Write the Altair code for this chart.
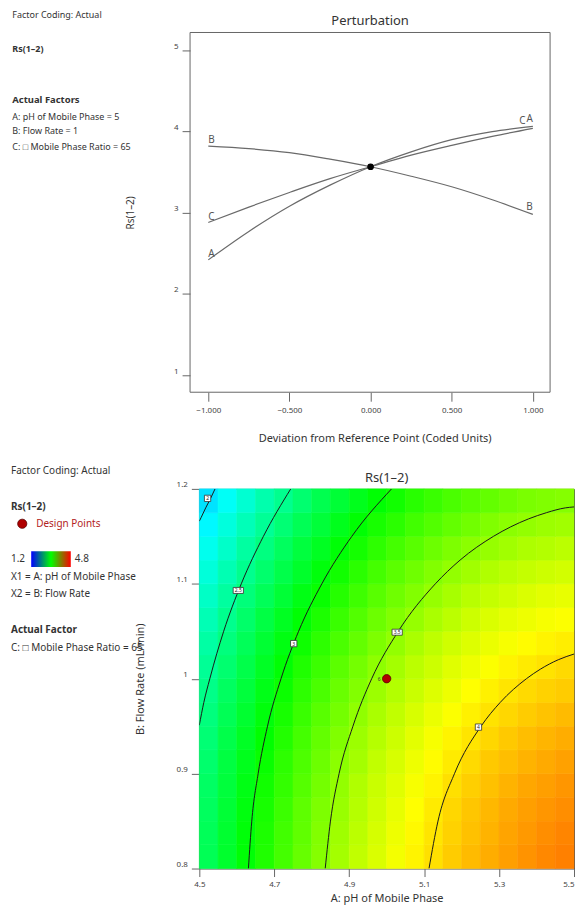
import altair as alt
import pandas as pd

FONT = "Noto Sans"

# ---------------- Perturbation data ----------------
dev = [-1.0, -0.75, -0.5, -0.25, 0.0, 0.25, 0.5, 0.75, 1.0]
rs_A = [2.42, 2.77, 3.08, 3.34, 3.567, 3.75, 3.90, 4.00, 4.065]
rs_B = [3.82, 3.79, 3.74, 3.66, 3.567, 3.45, 3.32, 3.16, 2.98]
rs_C = [2.88, 3.07, 3.25, 3.42, 3.567, 3.71, 3.83, 3.94, 4.04]
ref_dev = [0.0]
ref_rs = [3.567]

lab_left_txt = ["B", "C", "A"]
lab_left_x = [-1.0, -1.0, -1.0]
lab_left_y = [3.82, 2.88, 2.42]
lab_right_txt = ["C", "A", "B"]
lab_right_x = [0.955, 1.0, 1.0]
lab_right_y = [4.04, 4.065, 2.98]

# ---------------- Contour data ----------------
ph_centers = [4.525, 4.575, 4.625, 4.675, 4.725, 4.775, 4.825, 4.875, 4.925, 4.975,
              5.025, 5.075, 5.125, 5.175, 5.225, 5.275, 5.325, 5.375, 5.425, 5.475]
flow_centers = [0.8125, 0.8375, 0.8625, 0.8875, 0.9125, 0.9375, 0.9625, 0.9875,
                1.0125, 1.0375, 1.0625, 1.0875, 1.1125, 1.1375, 1.1625, 1.1875]
rs_grid = [
    [2.70, 2.84, 2.98, 3.11, 3.24, 3.36, 3.47, 3.58, 3.68, 3.77, 3.86, 3.94, 4.01, 4.08, 4.14, 4.19, 4.24, 4.28, 4.32, 4.35],
    [2.69, 2.83, 2.97, 3.10, 3.23, 3.34, 3.46, 3.56, 3.66, 3.75, 3.84, 3.92, 3.99, 4.06, 4.12, 4.17, 4.22, 4.26, 4.30, 4.33],
    [2.67, 2.81, 2.95, 3.08, 3.21, 3.33, 3.44, 3.54, 3.64, 3.73, 3.82, 3.90, 3.97, 4.04, 4.10, 4.15, 4.20, 4.24, 4.27, 4.30],
    [2.65, 2.79, 2.93, 3.06, 3.18, 3.30, 3.41, 3.52, 3.62, 3.71, 3.79, 3.87, 3.94, 4.01, 4.07, 4.12, 4.17, 4.21, 4.24, 4.27],
    [2.62, 2.77, 2.90, 3.03, 3.16, 3.27, 3.38, 3.49, 3.58, 3.68, 3.76, 3.84, 3.91, 3.97, 4.03, 4.09, 4.13, 4.17, 4.20, 4.23],
    [2.59, 2.74, 2.87, 3.00, 3.12, 3.24, 3.35, 3.45, 3.55, 3.64, 3.72, 3.80, 3.87, 3.94, 3.99, 4.04, 4.09, 4.13, 4.16, 4.19],
    [2.56, 2.70, 2.83, 2.96, 3.08, 3.20, 3.31, 3.41, 3.51, 3.60, 3.68, 3.76, 3.83, 3.89, 3.95, 4.00, 4.04, 4.08, 4.11, 4.14],
    [2.52, 2.66, 2.79, 2.92, 3.04, 3.16, 3.26, 3.37, 3.46, 3.55, 3.63, 3.71, 3.78, 3.84, 3.90, 3.95, 3.99, 4.03, 4.06, 4.08],
    [2.47, 2.61, 2.74, 2.87, 2.99, 3.11, 3.21, 3.32, 3.41, 3.50, 3.58, 3.66, 3.72, 3.79, 3.84, 3.89, 3.94, 3.97, 4.00, 4.03],
    [2.42, 2.56, 2.69, 2.82, 2.94, 3.05, 3.16, 3.26, 3.35, 3.44, 3.52, 3.60, 3.67, 3.73, 3.78, 3.83, 3.87, 3.91, 3.94, 3.96],
    [2.36, 2.50, 2.63, 2.76, 2.88, 2.99, 3.10, 3.20, 3.29, 3.38, 3.46, 3.53, 3.60, 3.66, 3.72, 3.77, 3.81, 3.84, 3.87, 3.89],
    [2.30, 2.44, 2.57, 2.69, 2.81, 2.93, 3.03, 3.13, 3.22, 3.31, 3.39, 3.46, 3.53, 3.59, 3.65, 3.69, 3.73, 3.77, 3.80, 3.82],
    [2.23, 2.37, 2.50, 2.62, 2.74, 2.85, 2.96, 3.06, 3.15, 3.24, 3.32, 3.39, 3.46, 3.52, 3.57, 3.62, 3.66, 3.69, 3.72, 3.74],
    [2.16, 2.29, 2.43, 2.55, 2.67, 2.78, 2.88, 2.98, 3.07, 3.16, 3.24, 3.31, 3.38, 3.44, 3.49, 3.53, 3.57, 3.61, 3.63, 3.66],
    [2.08, 2.22, 2.35, 2.47, 2.59, 2.70, 2.80, 2.90, 2.99, 3.08, 3.15, 3.23, 3.29, 3.35, 3.40, 3.45, 3.49, 3.52, 3.55, 3.57],
    [2.00, 2.13, 2.26, 2.39, 2.50, 2.61, 2.72, 2.81, 2.90, 2.99, 3.06, 3.14, 3.20, 3.26, 3.31, 3.35, 3.39, 3.43, 3.45, 3.47],
]

c2_ph = [4.542, 4.530, 4.517, 4.505, 4.500]
c2_fl = [1.200, 1.190, 1.180, 1.170, 1.166]
c25_ph = [4.500, 4.512, 4.528, 4.565, 4.612, 4.671, 4.744]
c25_fl = [0.951, 0.975, 1.000, 1.050, 1.100, 1.150, 1.200]
c3_ph = [4.631, 4.640, 4.657, 4.682, 4.718, 4.765, 4.827, 4.907, 5.013]
c3_fl = [0.80, 0.85, 0.90, 0.95, 1.00, 1.05, 1.10, 1.15, 1.20]
c35_ph = [4.836, 4.850, 4.873, 4.910, 4.960, 5.031, 5.130, 5.196, 5.285, 5.331, 5.427, 5.477, 5.500]
c35_fl = [0.80, 0.85, 0.90, 0.95, 1.00, 1.05, 1.10, 1.125, 1.15, 1.16, 1.175, 1.18, 1.181]
c4_ph = [5.113, 5.137, 5.181, 5.252, 5.303, 5.373, 5.410, 5.458, 5.500]
c4_fl = [0.80, 0.85, 0.90, 0.95, 0.975, 1.00, 1.01, 1.02, 1.026]

lab1_txt = ["2", "3", "4"]
lab1_ph = [4.522, 4.752, 5.245]
lab1_fl = [1.190, 1.037, 0.949]
lab3_txt = ["2.5", "3.5"]
lab3_ph = [4.604, 5.028]
lab3_fl = [1.093, 1.049]

design_ph = [5.0]
design_fl = [1.0]
design_run = ["6"]

color_domain = [1.2, 2.1, 3.0, 3.9, 4.8]
color_range = ["#0000ff", "#00ffff", "#00ff00", "#ffff00", "#ff0000"]

# ---------------- helpers ----------------
def txt(s, x, y, size=9, bold=False, color="#333333", align="left"):
    return alt.Chart(pd.DataFrame({"t": [s]})).mark_text(
        align=align, baseline="middle", fontSize=size,
        fontWeight="bold" if bold else "normal", color=color, font=FONT
    ).encode(x=alt.value(x), y=alt.value(y), text="t:N")

# ---------------- top: perturbation ----------------
TW, TH = 352, 361          # view width/height
FRAME_OFF = 9.3            # frame/axis sits left of the view origin

pert_df = pd.DataFrame({
    "dev": dev * 3,
    "rs": rs_A + rs_B + rs_C,
    "factor": ["A"] * len(dev) + ["B"] * len(dev) + ["C"] * len(dev),
})
xs_top = alt.Scale(domain=[-1.0553, 1.1062], nice=False, zero=False)
ys_top = alt.Scale(domain=[0.79, 5.22], nice=False, zero=False)

x_top_axis = alt.Axis(values=[-1, -0.5, 0, 0.5, 1], format=".3f", grid=False, domain=False,
                      tickSize=9, tickColor="#666666", labelFontSize=8, labelColor="#444444",
                      labelPadding=5, labelFont=FONT, title="Deviation from Reference Point (Coded Units)",
                      titleFont=FONT, titleFontSize=11, titleFontWeight="normal", titleColor="#333333",
                      titleY=46, titleBaseline="middle")
y_top_axis = alt.Axis(values=[1, 2, 3, 4, 5], format="d", grid=False, domain=False, offset=FRAME_OFF,
                      tickSize=8, tickColor="#666666", labelFontSize=8, labelColor="#444444",
                      labelPadding=4, labelBaseline="bottom", labelFont=FONT, title="Rs(1–2)",
                      titleFont=FONT, titleFontSize=10, titleFontWeight="normal", titleColor="#333333",
                      titleX=-60, titleY=TH / 2, titleBaseline="middle", titleAlign="center")

lines = alt.Chart(pert_df).mark_line(color="#6a6a6a", strokeWidth=1.2, interpolate="monotone").encode(
    x=alt.X("dev:Q", scale=xs_top, axis=x_top_axis),
    y=alt.Y("rs:Q", scale=ys_top, axis=y_top_axis),
    detail="factor:N",
)
ref_pt = alt.Chart(pd.DataFrame({"dev": ref_dev, "rs": ref_rs})).mark_circle(
    color="black", size=45, opacity=1).encode(x=alt.X("dev:Q", scale=xs_top), y=alt.Y("rs:Q", scale=ys_top))
labL = alt.Chart(pd.DataFrame({"t": lab_left_txt, "dev": lab_left_x, "rs": lab_left_y})).mark_text(
    align="left", baseline="bottom", dy=-1, fontSize=10, color="#555555", font=FONT).encode(
    x=alt.X("dev:Q", scale=xs_top), y=alt.Y("rs:Q", scale=ys_top), text="t:N")
labR = alt.Chart(pd.DataFrame({"t": lab_right_txt, "dev": lab_right_x, "rs": lab_right_y})).mark_text(
    align="right", baseline="bottom", dy=-2, fontSize=10, color="#555555", font=FONT).encode(
    x=alt.X("dev:Q", scale=xs_top), y=alt.Y("rs:Q", scale=ys_top), text="t:N")
frame_top = alt.Chart(pd.DataFrame({"k": [0]})).mark_rect(
    fill="transparent", stroke="#666666", strokeWidth=1).encode(
    x=alt.value(-FRAME_OFF), x2=alt.value(TW), y=alt.value(0), y2=alt.value(TH))

TX = -187.7
top = alt.layer(
    frame_top, lines, ref_pt, labL, labR,
    txt("Perturbation", (TW - FRAME_OFF) / 2, -11.5, 13, align="center"),
    txt("Factor Coding: Actual", TX, -18, 9),
    txt("Rs(1–2)", TX, 17, 9, bold=True),
    txt("Actual Factors", TX, 67.5, 9.5, bold=True),
    txt("A: pH of Mobile Phase = 5", TX, 84.5, 9),
    txt("B: Flow Rate = 1", TX, 99, 9),
    txt("C: \u25a1 Mobile Phase Ratio = 65", TX, 114.5, 9),
).properties(width=TW, height=TH, view=alt.ViewBackground(stroke="transparent"))

# ---------------- bottom: contour ----------------
BW, BH = 376, 381
hw = (ph_centers[1] - ph_centers[0]) / 2
hh = (flow_centers[1] - flow_centers[0]) / 2
cells = []
for i, fl in enumerate(flow_centers):
    for j, ph in enumerate(ph_centers):
        cells.append({"ph": ph - hw, "ph2": ph + hw, "fl": fl - hh, "fl2": fl + hh, "rs": rs_grid[i][j]})
cell_df = pd.DataFrame(cells)

xs_b = alt.Scale(domain=[4.5, 5.5], nice=False, zero=False)
ys_b = alt.Scale(domain=[0.8, 1.2], nice=False, zero=False)
cscale = alt.Scale(domain=color_domain, range=color_range, interpolate="rgb")

x_b_axis = alt.Axis(values=[4.5, 4.7, 4.9, 5.1, 5.3, 5.5], format="~g", grid=False, domain=False,
                    tickSize=8, tickColor="#666666", labelFontSize=8, labelColor="#444444",
                    labelPadding=4, labelFont=FONT, title="A: pH of Mobile Phase",
                    labelAlign={"condition": {"test": "datum.value >= 5.5", "value": "right"}, "value": "center"},
                    titleFont=FONT, titleFontSize=11, titleFontWeight="normal", titleColor="#333333",
                    titleY=30, titleBaseline="middle")
y_b_axis = alt.Axis(values=[0.8, 0.9, 1.0, 1.1, 1.2], format="~g", grid=False, domain=False,
                    tickSize=8, tickColor="#666666", labelFontSize=8, labelColor="#444444",
                    labelPadding=4, labelBaseline="bottom", labelFont=FONT, title="B: Flow Rate (mL/min)",
                    titleFont=FONT, titleFontSize=11, titleFontWeight="normal", titleColor="#333333",
                    titleX=-59, titleY=BH / 2, titleBaseline="middle", titleAlign="center")

heat = alt.Chart(cell_df).mark_rect(strokeWidth=0.6).encode(
    x=alt.X("ph:Q", scale=xs_b, axis=x_b_axis),
    x2="ph2:Q",
    y=alt.Y("fl:Q", scale=ys_b, axis=y_b_axis),
    y2="fl2:Q",
    color=alt.Color("rs:Q", scale=cscale, legend=None),
    stroke=alt.Stroke("rs:Q", scale=cscale, legend=None),
)

cont_df = pd.DataFrame({
    "ph": c2_ph + c25_ph + c3_ph + c35_ph + c4_ph,
    "fl": c2_fl + c25_fl + c3_fl + c35_fl + c4_fl,
    "level": ["2"] * len(c2_ph) + ["2.5"] * len(c25_ph) + ["3"] * len(c3_ph)
             + ["3.5"] * len(c35_ph) + ["4"] * len(c4_ph),
})
contours = alt.Chart(cont_df).mark_line(color="#1a1a1a", strokeWidth=1, interpolate="monotone", clip=True).encode(
    x=alt.X("ph:Q", scale=xs_b), y=alt.Y("fl:Q", scale=ys_b), detail="level:N")

box1 = alt.Chart(pd.DataFrame({"ph": lab1_ph, "fl": lab1_fl})).mark_point(
    shape="square", size=40, filled=True, fill="white", stroke="#333333", strokeWidth=0.8, opacity=1).encode(
    x=alt.X("ph:Q", scale=xs_b), y=alt.Y("fl:Q", scale=ys_b))
box3 = alt.Chart(pd.DataFrame({"ph": lab3_ph, "fl": lab3_fl})).mark_point(
    shape="M-1.45,-0.85H1.45V0.85H-1.45Z", size=50, filled=True, fill="white", stroke="#333333",
    strokeWidth=0.8, opacity=1).encode(
    x=alt.X("ph:Q", scale=xs_b), y=alt.Y("fl:Q", scale=ys_b))
lab_all = alt.Chart(pd.DataFrame({"t": lab1_txt + lab3_txt, "ph": lab1_ph + lab3_ph,
                                  "fl": lab1_fl + lab3_fl})).mark_text(
    fontSize=5, color="#222222", font=FONT, baseline="middle", align="center").encode(
    x=alt.X("ph:Q", scale=xs_b), y=alt.Y("fl:Q", scale=ys_b), text="t:N")

dp = alt.Chart(pd.DataFrame({"ph": design_ph, "fl": design_fl})).mark_circle(
    size=70, color="#b00000", stroke="#5a0000", strokeWidth=0.8, opacity=1).encode(
    x=alt.X("ph:Q", scale=xs_b), y=alt.Y("fl:Q", scale=ys_b))
dp_lab = alt.Chart(pd.DataFrame({"ph": design_ph, "fl": design_fl, "t": design_run})).mark_text(
    fontSize=5, color="#333333", align="right", dx=-6, baseline="middle", font=FONT).encode(
    x=alt.X("ph:Q", scale=xs_b), y=alt.Y("fl:Q", scale=ys_b), text="t:N")

# colour key
key = alt.Chart(pd.DataFrame({"k": [0]})).mark_rect(
    color=alt.Gradient(gradient="linear", x1=0, x2=1, y1=0, y2=0,
                       stops=[alt.GradientStop(color="#0000ff", offset=0),
                              alt.GradientStop(color="#00ff00", offset=0.5),
                              alt.GradientStop(color="#ff0000", offset=1)])).encode(
    x=alt.value(-168.7), x2=alt.value(-129), y=alt.value(62.7), y2=alt.value(78.3))
key_dot = alt.Chart(pd.DataFrame({"k": [0]})).mark_circle(
    size=85, color="#b00000", stroke="#5a0000", strokeWidth=0.8, opacity=1).encode(
    x=alt.value(-177.7), y=alt.value(35))

BX = -189
bottom = alt.layer(
    heat, contours, box1, box3, lab_all, dp, dp_lab, key, key_dot,
    txt("Rs(1–2)", BW / 2, -11, 13, align="center"),
    txt("Factor Coding: Actual", BX, -18.3, 10),
    txt("Rs(1–2)", BX, 17.7, 10, bold=True),
    txt("Design Points", -163.7, 35, 10, color="#b22222"),
    txt("1.2", BX, 70.3, 10),
    txt("4.8", -125, 70.3, 10),
    txt("X1 = A: pH of Mobile Phase", BX, 88.3, 10),
    txt("X2 = B: Flow Rate", BX, 105.7, 10),
    txt("Actual Factor", BX, 141.7, 10, bold=True),
    txt("C: \u25a1 Mobile Phase Ratio = 65", BX, 159.3, 10),
).properties(width=BW, height=BH, view=alt.ViewBackground(stroke="#555555", strokeWidth=1))

chart = alt.vconcat(top, bottom, spacing=21).properties(
    padding={"left": 2, "top": 0, "right": 0, "bottom": 0})

chart.save("out.html", embed_options={"renderer": "svg", "actions": False})
